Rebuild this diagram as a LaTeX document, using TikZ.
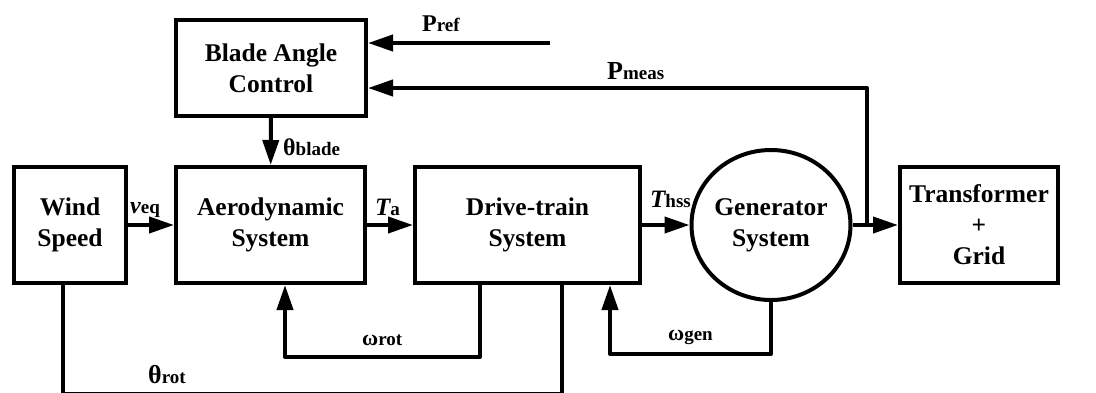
\documentclass[tikz,border=0pt]{standalone}
\usepackage{fontspec}
\setmainfont{Liberation Serif}
\usetikzlibrary{arrows.meta,shapes.geometric}

\newcommand\boxfont{\fontsize{25.5}{31}\selectfont\bfseries}
% signal name: main letter + smaller index on the baseline
\newcommand\sig[3][24]{{\fontsize{#1}{#1}\selectfont\bfseries #2}{\fontsize{19}{19}\selectfont\bfseries #3}}

\tikzset{
  blk/.style={draw, line width=4pt, inner sep=0pt, align=center, font=\boxfont},
  genblk/.style={draw, ellipse, line width=4pt, inner sep=0pt},
  wire/.style={line width=4pt, line join=round},
  sig/.style={wire, -{Triangle[length=25pt,width=16pt]}},
  lbl/.style={anchor=base west, inner sep=0pt}
}

\begin{document}
\begin{tikzpicture}[x=1pt, y=-1pt]
        \useasboundingbox (0,0) rectangle (1096,392);

        % blocks
        \node[blk, minimum width=190, minimum height=96] (blade) at (271,68) {Blade Angle\\Control};
        \node[blk, minimum width=112, minimum height=116] (wind) at (70,225) {Wind\\Speed};
        \node[blk, minimum width=189, minimum height=116] (aero) at (270.5,225) {Aerodynamic\\System};
        \node[blk, minimum width=225, minimum height=116] (drive) at (527.5,225) {Drive-train\\System};
        \node[genblk, minimum width=159, minimum height=150,
              label={[align=center, font=\boxfont]center:Generator\\System}] (gen) at (771,225) {};
        \node[blk, minimum width=158, minimum height=116] (grid) at (979,225) {Transformer\\+\\Grid};

        \coordinate (pref) at (550,43);
        \coordinate (tap) at (867,225);
        \coordinate (wr) at (480,357);
        \coordinate (wrL) at (285,357);
        \coordinate (wg) at (610,354);
        \coordinate (rotL) at (63,393.5);
        \coordinate (rotR) at (562,393.5);

        % forward path
        \draw[sig] (wind) -- (aero);
        \draw[sig] (aero) -- (drive);
        \draw[sig] (drive) -- (gen);
        \draw[sig] (gen) -- (grid);
        \draw[sig] (blade) -- (aero);

        % references and feedbacks
        \draw[sig] (pref) -- (pref -| blade.east);
        \draw[sig] (tap) |- ([yshift=-20pt]blade.east);
        \draw[sig] (wr |- drive.south) -- (wr) -- (wrL) -- (wrL |- aero.south);
        \draw[sig] (gen.south) |- (wg) -- (wg |- drive.south);
        \draw[wire] (rotL |- wind.south) -- (rotL) -- (rotR) -- (rotR |- drive.south);

        % signal names
        \node[lbl] (lPref) at (422,31) {\sig{P}{ref}};
        \node[lbl] (lPmeas) at (607,79) {\sig[26]{P}{meas}};
        \node[lbl] (lThb) at (283,155) {\sig{θ}{blade}};
        \node[lbl] (lVeq) at (130,213) {\sig{\itshape v}{eq}};
        \node[lbl] (lTa) at (375,215) {\sig[25]{\itshape T}{a}};
        \node[lbl] (lThss) at (650,207) {\sig[25]{\itshape T}{hss}};
        \node[lbl] (lWrot) at (362,345) {\sig[22]{ω}{rot}};
        \node[lbl] (lWgen) at (668,340) {\sig[22]{ω}{gen}};
        \node[lbl] (lThr) at (148,383) {\sig[26]{θ}{rot}};
\end{tikzpicture}
\end{document}
